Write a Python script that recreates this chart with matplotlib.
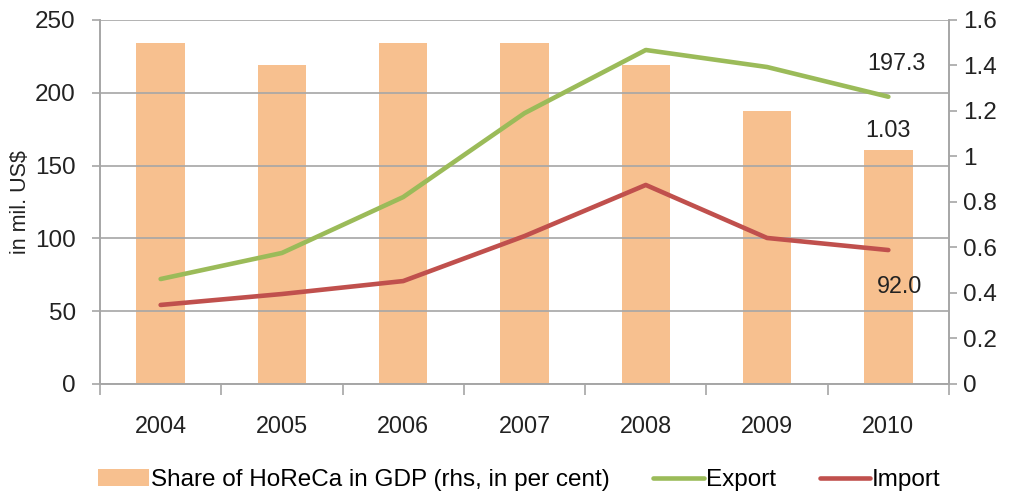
import numpy as np
import matplotlib.pyplot as plt
from matplotlib.ticker import FixedLocator
from matplotlib.patches import Rectangle
from matplotlib.legend_handler import HandlerPatch

plt.rcParams['font.family'] = ['Liberation Sans', 'DejaVu Sans']

years = ['2004', '2005', '2006', '2007', '2008', '2009', '2010']
horeca_share = [1.5, 1.4, 1.5, 1.5, 1.4, 1.2, 1.03]
export = [72.1, 90.0, 128.4, 186.0, 229.4, 217.7, 197.3]
imports = [54.3, 61.8, 70.7, 101.6, 136.7, 100.3, 92.0]

grey = '#A6A6A6'
txt = '#222222'
x = np.arange(len(years))

fig = plt.figure(figsize=(10.09, 4.97), dpi=100)
ax = fig.add_axes([100 / 1009, 113 / 497, 849 / 1009, 364 / 497])
ax2 = ax.twinx()

# bars on the right axis, lines on the left one
ax2.bar(x, horeca_share, width=0.4, color='#F7C08F', zorder=1,
        label='Share of HoReCa in GDP (rhs, in per cent)')
ax.set_zorder(ax2.get_zorder() + 1)
ax.patch.set_visible(False)

ax.plot(x, export, color='#9BBB59', lw=3.3, solid_capstyle='round', label='Export')
ax.plot(x, imports, color='#C0504D', lw=3.3, solid_capstyle='round', label='Import')

ax.set_xlim(-0.5, len(years) - 0.5)
ax.set_ylim(0, 250)
ax2.set_ylim(0, 1.6)
ax.set_yticks(np.arange(0, 251, 50))
ax2.set_yticks(np.arange(0, 1.61, 0.2))
ax2.set_yticklabels(['0', '0.2', '0.4', '0.6', '0.8', '1', '1.2', '1.4', '1.6'])

ax.set_xticks(x)
ax.set_xticklabels(years)
ax.xaxis.set_minor_locator(FixedLocator(np.arange(-0.5, len(years), 1.0)))
ax.tick_params(axis='x', which='major', length=0, pad=22, labelsize=16.8, colors=txt)
ax.tick_params(axis='x', which='minor', length=8, width=1.2, color=grey)
ax.tick_params(axis='y', length=6, width=1.2, color=grey, labelsize=17.5,
               labelcolor=txt, pad=11.5)
ax2.tick_params(axis='y', length=6, width=1.2, color=grey, labelsize=17.5,
                labelcolor=txt, pad=4)

ax.grid(axis='y', color=grey, lw=1.2)
ax.set_axisbelow(True)
for a in (ax, ax2):
    a.spines['top'].set_visible(False)
    for s in ('left', 'right', 'bottom'):
        a.spines[s].set_color(grey)
        a.spines[s].set_linewidth(1.2)

ax.set_ylabel('in mil. US$', fontsize=15.5, color=txt, labelpad=3)

ax.text(6 + 0.07, 212, '197.3', ha='center', va='bottom', fontsize=16.8, color=txt)
ax2.text(6, 1.065, '1.03', ha='center', va='bottom', fontsize=16.8, color=txt)
ax.text(6 + 0.09, 75, '92.0', ha='center', va='top', fontsize=16.8, color=txt)


def small_rect(legend, orig_handle, xdescent, ydescent, width, height, fontsize):
    w = 0.63 * width
    return Rectangle((-xdescent + width - w, -ydescent), w, 0.95 * height)


h1, l1 = ax2.get_legend_handles_labels()
h2, l2 = ax.get_legend_handles_labels()
fig.legend(h1 + h2, l1 + l2, loc='center', bbox_to_anchor=(0.515, 17 / 497),
           ncol=3, frameon=False, fontsize=17.5, handlelength=2.08,
           handletextpad=0.08, columnspacing=1.8,
           handler_map={Rectangle: HandlerPatch(patch_func=small_rect)})

fig.savefig('out.png', dpi=100)
